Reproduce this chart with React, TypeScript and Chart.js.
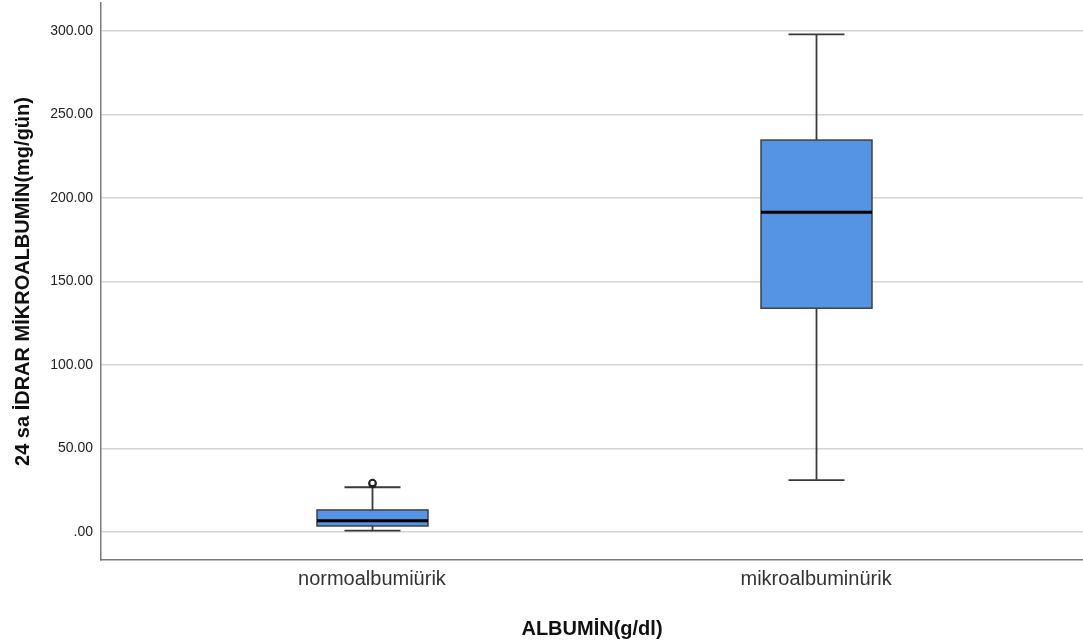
import React, { useEffect, useRef } from "react";
import { Chart, registerables } from "chart.js";

Chart.register(...registerables);

const categories = ["normoalbumiürik", "mikroalbuminürik"];
const q1Values = [3.6, 134.0];
const medianValues = [6.8, 191.4];
const q3Values = [13.2, 234.7];
const whiskerLow = [0.8, 31.1];
const whiskerHigh = [26.8, 298.0];
const outliers: number[][] = [[28.7, 29.4], []];
const yTicks = [0, 50, 100, 150, 200, 250, 300];

const FONT = "'Liberation Sans', Arial, sans-serif";

const boxPlugin = {
  id: "boxDraw",
  afterDatasetsDraw(chart: any) {
    const { ctx, scales } = chart;
    const xs = scales.x;
    const ys = scales.y;
    ctx.save();
    categories.forEach((_, i) => {
      const cx = Math.round(xs.getPixelForValue(i)) + 0.5;
      const half = 55.5;
      const cap = 28;
      const yq1 = ys.getPixelForValue(q1Values[i]);
      const yq3 = ys.getPixelForValue(q3Values[i]);
      const ymed = ys.getPixelForValue(medianValues[i]);
      const ylo = ys.getPixelForValue(whiskerLow[i]);
      const yhi = ys.getPixelForValue(whiskerHigh[i]);
      ctx.strokeStyle = "#3a3a3a";
      ctx.lineWidth = 1.8;
      ctx.beginPath();
      ctx.moveTo(cx, yq3);
      ctx.lineTo(cx, yhi);
      ctx.moveTo(cx, yq1);
      ctx.lineTo(cx, ylo);
      ctx.moveTo(cx - cap, yhi);
      ctx.lineTo(cx + cap, yhi);
      ctx.moveTo(cx - cap, ylo);
      ctx.lineTo(cx + cap, ylo);
      ctx.stroke();
      ctx.fillStyle = "#5594e4";
      ctx.fillRect(cx - half, yq3, half * 2, yq1 - yq3);
      ctx.strokeStyle = "#404040";
      ctx.lineWidth = 1.5;
      ctx.strokeRect(cx - half, yq3, half * 2, yq1 - yq3);
      ctx.strokeStyle = "#000000";
      ctx.lineWidth = 3;
      ctx.beginPath();
      ctx.moveTo(cx - half, ymed);
      ctx.lineTo(cx + half, ymed);
      ctx.stroke();
      outliers[i].forEach((v) => {
        const oy = ys.getPixelForValue(v);
        ctx.beginPath();
        ctx.arc(cx, oy, 3.2, 0, Math.PI * 2);
        ctx.fillStyle = "#ffffff";
        ctx.fill();
        ctx.strokeStyle = "#222222";
        ctx.lineWidth = 2;
        ctx.stroke();
      });
    });
    ctx.restore();
  },
};

export default function App() {
  const ref = useRef<HTMLCanvasElement | null>(null);
  useEffect(() => {
    if (!ref.current) return;
    const chart = new Chart(ref.current, {
      type: "scatter",
      data: {
        datasets: [
          {
            label: "median",
            data: categories.map((_, i) => ({ x: i, y: medianValues[i] })),
            pointRadius: 0,
            showLine: false,
          },
        ],
      },
      options: {
        animation: false,
        responsive: false,
        layout: { padding: { top: 3, right: 0, left: 0, bottom: 0 } },
        plugins: { legend: { display: false }, tooltip: { enabled: false } },
        scales: {
          x: {
            type: "linear",
            min: -0.61,
            max: 1.601,
            afterBuildTicks: (s: any) => {
              s.ticks = categories.map((_, i) => ({ value: i }));
            },
            afterFit: (s: any) => {
              s.height = 81;
              s.paddingLeft = 0;
              s.paddingRight = 0;
              s.paddingTop = 0;
              s.paddingBottom = 0;
            },
            grid: { display: false, drawTicks: false },
            border: { color: "#7a7a7a", width: 1.5 },
            ticks: {
              padding: 7,
              color: "#333333",
              maxRotation: 0,
              font: { family: FONT, size: 20 },
              callback: (v: any) => categories[Math.round(Number(v))] ?? "",
            },
            title: {
              display: true,
              text: "ALBUMİN(g/dl)",
              color: "#111111",
              font: { family: FONT, size: 20, weight: "bold" },
              padding: { top: 19, bottom: 0 },
            },
          },
          y: {
            type: "linear",
            min: -16.77,
            max: 316.77,
            afterBuildTicks: (s: any) => {
              s.ticks = yTicks.map((v) => ({ value: v }));
            },
            afterFit: (s: any) => {
              s.width = 101;
              s.paddingLeft = 0;
              s.paddingRight = 0;
              s.paddingTop = 0;
              s.paddingBottom = 0;
            },
            grid: { color: "#d4d4d4", lineWidth: 1.5, drawTicks: false },
            border: { color: "#7a7a7a", width: 1.5 },
            ticks: {
              padding: 8,
              color: "#222222",
              font: { family: FONT, size: 14 },
              callback: (v: any) => {
                const n = Number(v);
                return n === 0 ? ".00" : n.toFixed(2);
              },
            },
            title: {
              display: true,
              text: "24 sa İDRAR MİKROALBUMİN(mg/gün)",
              color: "#111111",
              font: { family: FONT, size: 20, weight: "bold" },
              padding: { top: 11, bottom: 0 },
            },
          },
        },
      },
      plugins: [boxPlugin],
    } as any);
    return () => chart.destroy();
  }, []);
  return (
    <div style={{ position: "fixed", left: 0, top: 0, width: 1083, height: 641, background: "#fff" }}>
      <canvas ref={ref} width={1083} height={641} style={{ width: 1083, height: 641 }} />
    </div>
  );
}
